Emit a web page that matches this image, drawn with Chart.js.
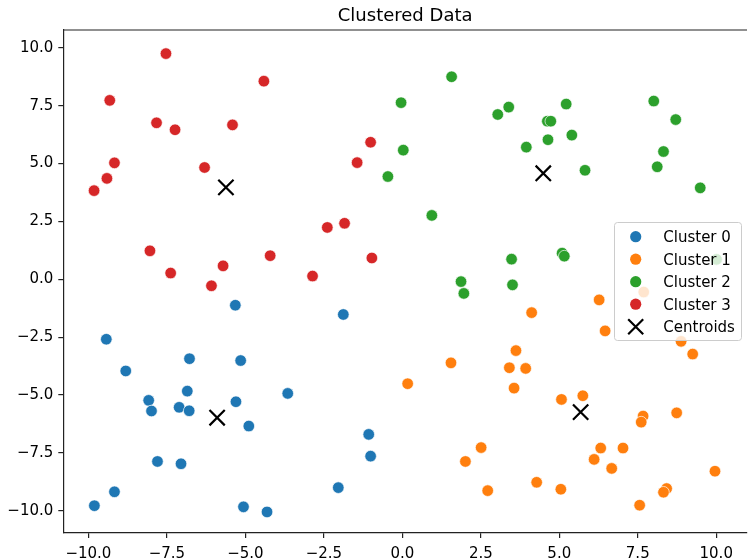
<!DOCTYPE html>
<html>
<head>
<meta charset="utf-8">
<script src="https://cdn.jsdelivr.net/npm/chart.js"></script>
<style>
  html, body { margin: 0; padding: 0; background: #fff; overflow: hidden; width: 748px; height: 559px; }
  #c { display: block; }
</style>
</head>
<body>
<canvas id="c" width="760" height="559"></canvas>
<script>
// cluster points
var cluster0X = [-5.32, -1.88, -9.43, -6.78, -5.15, -8.81, -6.85, -3.65, -8.08, -5.30, -7.99, -7.11, -6.79, -4.89, -7.80, -7.05, -1.07, -1.01, -2.04, -9.17, -9.81, -5.06, -4.31];
var cluster0Y = [-1.12, -1.52, -2.59, -3.43, -3.51, -3.96, -4.83, -4.93, -5.23, -5.29, -5.69, -5.53, -5.68, -6.34, -7.87, -7.97, -6.70, -7.64, -9.00, -9.18, -9.78, -9.83, -10.05];

var cluster1X = [6.27, 7.69, 4.12, 6.46, 8.88, 9.25, 3.62, 1.55, 3.41, 3.93, 0.17, 3.56, 5.07, 5.75, 8.74, 7.67, 7.61, 2.51, 6.32, 7.03, 2.01, 6.11, 6.67, 9.96, 4.28, 2.72, 5.05, 8.42, 8.32, 7.56];
var cluster1Y = [-0.89, -0.55, -1.44, -2.23, -2.68, -3.23, -3.08, -3.61, -3.82, -3.85, -4.51, -4.70, -5.19, -5.03, -5.77, -5.91, -6.17, -7.27, -7.29, -7.29, -7.87, -7.78, -8.17, -8.29, -8.77, -9.13, -9.07, -9.04, -9.20, -9.76];

var cluster2X = [1.57, -0.04, 3.39, 3.04, 5.22, 8.01, 8.71, 4.62, 4.73, 4.64, 5.40, 0.03, 3.95, 8.32, -0.46, 5.82, 8.12, 9.49, 0.94, 3.48, 5.09, 5.16, 10.01, 1.87, 1.96, 3.51];
var cluster2Y = [8.75, 7.63, 7.44, 7.12, 7.57, 7.70, 6.90, 6.83, 6.83, 6.03, 6.23, 5.58, 5.71, 5.52, 4.44, 4.71, 4.86, 3.95, 2.76, 0.87, 1.13, 1.00, 0.86, -0.10, -0.61, -0.24];

var cluster3X = [-7.53, -4.41, -9.32, -7.83, -7.24, -5.41, -1.01, -1.44, -9.17, -9.41, -9.82, -6.30, -2.39, -1.84, -8.04, -4.21, -0.97, -5.71, -7.38, -2.86, -6.08];
var cluster3Y = [9.75, 8.56, 7.73, 6.76, 6.46, 6.67, 5.92, 5.04, 5.03, 4.36, 3.83, 4.83, 2.24, 2.42, 1.23, 1.02, 0.92, 0.58, 0.27, 0.14, -0.28];

var centroidX = [-5.90, 5.68, 4.49, -5.62];
var centroidY = [-5.98, -5.74, 4.58, 3.97];

var clusterLabels = ["Cluster 0", "Cluster 1", "Cluster 2", "Cluster 3", "Centroids"];
var clusterColors = ["#1f77b4", "#ff7f0e", "#2ca02c", "#d62728", "#000000"];

var xTicks = [-10, -7.5, -5, -2.5, 0, 2.5, 5, 7.5, 10];
var yTicks = [-10, -7.5, -5, -2.5, 0, 2.5, 5, 7.5, 10];

var FONT = "'DejaVu Sans', sans-serif";

function toPoints(xs, ys) {
    var pts = [];
    for (var i = 0; i < xs.length; i++) pts.push({x: xs[i], y: ys[i]});
    return pts;
}

function fmt(v) {
    var s = Math.abs(v).toFixed(1);
    return v < 0 ? "\u2212" + s : s;
}

function clusterSet(i, xs, ys) {
    return {
        label: clusterLabels[i],
        data: toPoints(xs, ys),
        backgroundColor: clusterColors[i],
        borderColor: "rgba(255,255,255,0.85)",
        borderWidth: 0.8,
        pointRadius: 5.8,
        pointHoverRadius: 5.8,
        order: 5 - i
    };
}

// top spine + matplotlib style legend box
var frameAndLegend = {
    id: "frameAndLegend",
    afterDatasetsDraw: function(chart) {
        var ctx = chart.ctx, a = chart.chartArea;
        ctx.save();
        ctx.strokeStyle = "#222";
        ctx.lineWidth = 1.2;
        ctx.beginPath();
        ctx.moveTo(a.left, a.top);
        ctx.lineTo(a.right, a.top);
        ctx.stroke();

        var bx = 614.5, by = 222.5, bw = 127, bh = 118, r = 3;
        ctx.beginPath();
        ctx.moveTo(bx + r, by);
        ctx.lineTo(bx + bw - r, by);
        ctx.arcTo(bx + bw, by, bx + bw, by + r, r);
        ctx.lineTo(bx + bw, by + bh - r);
        ctx.arcTo(bx + bw, by + bh, bx + bw - r, by + bh, r);
        ctx.lineTo(bx + r, by + bh);
        ctx.arcTo(bx, by + bh, bx, by + bh - r, r);
        ctx.lineTo(bx, by + r);
        ctx.arcTo(bx, by, bx + r, by, r);
        ctx.closePath();
        ctx.fillStyle = "rgba(255,255,255,0.8)";
        ctx.fill();
        ctx.strokeStyle = "#cccccc";
        ctx.lineWidth = 1;
        ctx.stroke();

        ctx.font = "15px " + FONT;
        ctx.textAlign = "left";
        ctx.textBaseline = "alphabetic";
        for (var i = 0; i < clusterLabels.length; i++) {
            var yy = 236.7 + i * 22.5;
            var mx = 635.7;
            if (i < 4) {
                ctx.beginPath();
                ctx.arc(mx, yy, 5.6, 0, Math.PI * 2);
                ctx.fillStyle = clusterColors[i];
                ctx.fill();
            } else {
                ctx.strokeStyle = "#000";
                ctx.lineWidth = 2.2;
                ctx.beginPath();
                ctx.moveTo(mx - 7.5, yy - 7.5);
                ctx.lineTo(mx + 7.5, yy + 7.5);
                ctx.moveTo(mx - 7.5, yy + 7.5);
                ctx.lineTo(mx + 7.5, yy - 7.5);
                ctx.stroke();
            }
            ctx.fillStyle = "#000";
            ctx.fillText(clusterLabels[i], 663.3, yy + 5.3);
        }
        ctx.restore();
    }
};

function axis(extra) {
    var base = {
        type: "linear",
        grid: { drawOnChartArea: false, drawTicks: true, tickLength: 5, color: "#222", lineWidth: 1.2 },
        border: { display: true, color: "#222", width: 1.2 },
        ticks: {
            color: "#000",
            padding: 5,
            font: { family: FONT, size: 15 },
            callback: function(v) { return fmt(v); }
        }
    };
    return Object.assign(base, extra);
}

var xAxis = axis({
    min: -10.80, max: 10.98,
    afterBuildTicks: function(s) { s.ticks = xTicks.map(function(v) { return {value: v}; }); },
    afterFit: function(s) { s.height = 26; }
});
xAxis.ticks.padding = 7.5;

var yAxis = axis({
    min: -10.96, max: 10.77,
    afterBuildTicks: function(s) { s.ticks = yTicks.map(function(v) { return {value: v}; }); },
    afterFit: function(s) { s.width = 63.3; }
});

var chart = new Chart(document.getElementById("c"), {
    type: "scatter",
    data: {
        datasets: [
            clusterSet(0, cluster0X, cluster0Y),
            clusterSet(1, cluster1X, cluster1Y),
            clusterSet(2, cluster2X, cluster2Y),
            clusterSet(3, cluster3X, cluster3Y),
            {
                label: clusterLabels[4],
                data: toPoints(centroidX, centroidY),
                pointStyle: "crossRot",
                pointRadius: 10.8,
                pointHoverRadius: 10.8,
                borderColor: "#000",
                backgroundColor: "#000",
                borderWidth: 2.2,
                order: 0
            }
        ]
    },
    options: {
        responsive: false,
        animation: false,
        events: [],
        layout: { padding: { left: 0, right: 10, top: 0, bottom: 0 } },
        scales: { x: xAxis, y: yAxis },
        plugins: {
            legend: { display: false },
            tooltip: { enabled: false },
            title: {
                display: true,
                fullSize: false,
                text: "Clustered Data",
                color: "#000",
                font: { family: FONT, size: 18, weight: "normal" },
                padding: { top: 5.5, bottom: 2.9 }
            }
        }
    },
    plugins: [frameAndLegend]
});
</script>
</body>
</html>
